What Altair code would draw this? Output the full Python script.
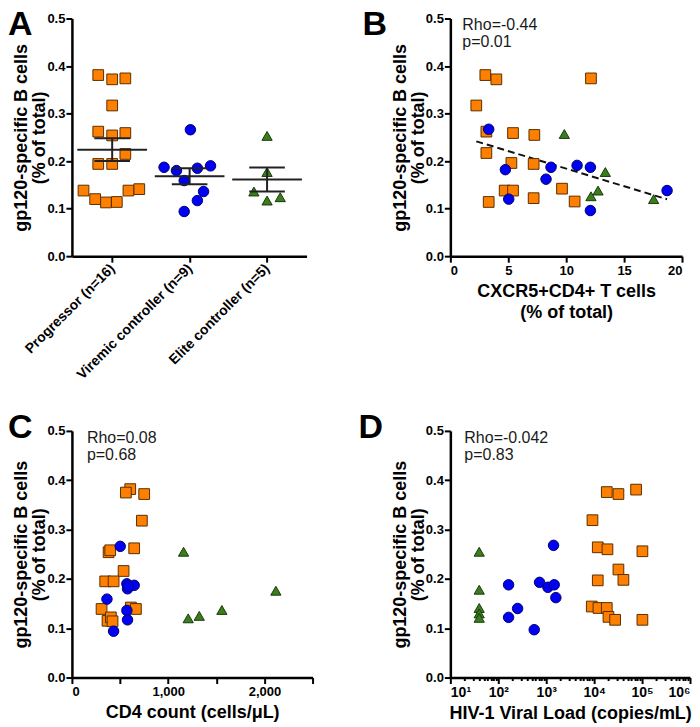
import altair as alt
import pandas as pd

groups = ["Progressor (n=16)", "Viremic controller (n=9)", "Elite controller (n=5)"]
fills = ["#FF8000", "#0000F5", "#3A7D1C"]
strokes = ["#5A2E00", "#00006E", "#1B3A0C"]
shapes = ["square", "circle", "triangle-up"]
sizes = [115, 105, 100]

# ---- Panel A (group index + horizontal scatter offset) ----
a_prog = [0.381, 0.372, 0.374, 0.317, 0.262, 0.254, 0.259, 0.215, 0.194, 0.194, 0.138, 0.120, 0.113, 0.114, 0.138, 0.141]
a_prog_jit = [-0.18, 0, 0.17, 0, -0.18, 0, 0.17, 0.17, -0.18, 0, -0.37, -0.22, -0.08, 0.06, 0.21, 0.35]
a_vir = [0.187, 0.180, 0.159, 0.266, 0.185, 0.190, 0.136, 0.117, 0.094]
a_vir_jit = [-0.33, -0.17, -0.07, 0.01, 0.10, 0.27, 0.18, 0.10, -0.07]
a_eli = [0.253, 0.177, 0.136, 0.117, 0.124]
a_eli_jit = [0, 0, -0.17, 0, 0.17]

# ---- Panel B: CXCR5+CD4+ T cells ----
b_prog_x = [3.02, 3.97, 12.14, 2.24, 3.11, 5.41, 7.25, 3.11, 5.27, 7.19, 4.69, 5.41, 9.64, 3.31, 7.19, 10.73]
b_prog_y = [0.381, 0.372, 0.374, 0.317, 0.262, 0.259, 0.255, 0.217, 0.196, 0.194, 0.138, 0.138, 0.142, 0.114, 0.122, 0.115]
b_vir_x = [3.31, 4.75, 5.04, 8.26, 8.69, 10.94, 12.09, 12.09, 18.71]
b_vir_y = [0.267, 0.182, 0.120, 0.162, 0.187, 0.191, 0.187, 0.096, 0.138]
b_eli_x = [9.84, 13.38, 12.75, 12.14, 17.55]
b_eli_y = [0.257, 0.177, 0.138, 0.126, 0.120]

# ---- Panel C: CD4 count ----
c_prog_x = [606, 561, 751, 727, 381, 398, 647, 537, 346, 433, 308, 613, 665, 370, 405, 422]
c_prog_y = [0.382, 0.375, 0.372, 0.318, 0.254, 0.258, 0.262, 0.216, 0.195, 0.195, 0.139, 0.142, 0.139, 0.115, 0.122, 0.114]
c_vir_x = [502, 364, 433, 571, 578, 647, 585, 571, 578]
c_vir_y = [0.266, 0.159, 0.094, 0.190, 0.180, 0.187, 0.185, 0.136, 0.117]
c_eli_x = [1160, 2119, 1558, 1323, 1208]
c_eli_y = [0.255, 0.176, 0.137, 0.125, 0.120]

# ---- Panel D: viral load ----
d_prog_x = [18360, 32100, 75000, 9230, 11900, 18950, 101600, 32100, 40800, 11900, 8930, 12300, 18360, 19900, 27400, 101600]
d_prog_y = [0.376, 0.372, 0.381, 0.319, 0.264, 0.260, 0.256, 0.219, 0.198, 0.197, 0.144, 0.141, 0.141, 0.123, 0.117, 0.117]
d_vir_x = [164, 164, 253, 562, 726, 1084, 1468, 1422, 1589]
d_vir_y = [0.188, 0.122, 0.140, 0.097, 0.193, 0.183, 0.188, 0.268, 0.162]
d_eli_x = [40, 40, 40, 40, 40]
d_eli_y = [0.255, 0.178, 0.141, 0.130, 0.121]

annotations = {"B": "Rho=-0.44\np=0.01", "C": "Rho=0.08\np=0.68", "D": "Rho=-0.042\np=0.83"}

FONT = "Liberation Sans"


def frame(sets):
    rows = []
    for gi, (xs, ys) in enumerate(sets):
        for x, y in zip(xs, ys):
            rows.append({"g": groups[gi], "gi": gi, "x": x, "y": y})
    return pd.DataFrame(rows)


df_a = frame([(a_prog_jit, a_prog), (a_vir_jit, a_vir), (a_eli_jit, a_eli)])
df_b = frame([(b_prog_x, b_prog_y), (b_vir_x, b_vir_y), (b_eli_x, b_eli_y)])
df_c = frame([(c_prog_x, c_prog_y), (c_vir_x, c_vir_y), (c_eli_x, c_eli_y)])
df_d = frame([(d_prog_x, d_prog_y), (d_vir_x, d_vir_y), (d_eli_x, d_eli_y)])

yaxis = alt.Axis(values=[0, 0.1, 0.2, 0.3, 0.4, 0.5], format=".1f",
                 title=["gp120-specific B cells", "(% of total)"],
                 titlePadding=-2, labelPadding=1, titleLineHeight=18)


def yenc(f="y"):
    return alt.Y(f"{f}:Q", scale=alt.Scale(domain=[0, 0.5], nice=False, zero=False), axis=yaxis)


def points(df, xenc):
    return alt.Chart(df).mark_point(filled=True, opacity=1, strokeWidth=1).encode(
        x=xenc, y=yenc(),
        color=alt.Color("g:N", scale=alt.Scale(domain=groups, range=fills), legend=None),
        stroke=alt.Stroke("g:N", scale=alt.Scale(domain=groups, range=strokes), legend=None),
        shape=alt.Shape("g:N", scale=alt.Scale(domain=groups, range=shapes), legend=None),
        size=alt.Size("g:O", scale=alt.Scale(domain=groups, range=sizes), legend=None),
    )


def letter(ch, dx, dy):
    return alt.Chart(pd.DataFrame({"t": [ch]})).mark_text(
        align="left", baseline="alphabetic", fontSize=34, fontWeight="bold", font=FONT, color="black"
    ).encode(text="t:N", x=alt.value(dx), y=alt.value(dy))


def note(txt, dx, dy):
    return alt.Chart(pd.DataFrame({"t": [txt]})).mark_text(
        align="left", baseline="alphabetic", fontSize=16, font=FONT, color="#1a1a1a",
        lineBreak="\n", lineHeight=17
    ).encode(text="t:N", x=alt.value(dx), y=alt.value(dy))


# ---- Panel A ----
label_expr = " : ".join(f"datum.value == {i} ? '{g}'" for i, g in enumerate(groups[:-1])) + f" : '{groups[-1]}'"
axis_a = alt.Axis(values=[0, 1, 2], labelExpr=label_expr, title=None, labelAngle=-45,
                  labelAlign="right", labelBaseline="middle", labelPadding=4,
                  labelOverlap=False, labelFontSize=14, labelBound=False, labelFlush=False)
xs_a = alt.Scale(domain=[-0.52, 2.51], nice=False, zero=False)


def xa(f):
    return alt.X(f"{f}:Q", scale=xs_a, axis=axis_a)


pts_a = points(df_a, xa("xp")).transform_calculate(xp="datum.gi + datum.x")
stats = alt.Chart(df_a).transform_aggregate(
    m="mean(y)", se="stderr(y)", groupby=["gi"]
).transform_calculate(
    x1="datum.gi - 0.45", x2="datum.gi + 0.45", c1="datum.gi - 0.23", c2="datum.gi + 0.23",
    lo="datum.m - datum.se", hi="datum.m + datum.se"
)
rule_kw = dict(color="#222222", strokeWidth=2)
mean_line = stats.mark_rule(**rule_kw).encode(x=xa("x1"), x2="x2:Q", y=yenc("m"))
err_v = stats.mark_rule(**rule_kw).encode(x=xa("gi"), y=yenc("lo"), y2="hi:Q")
cap_lo = stats.mark_rule(**rule_kw).encode(x=xa("c1"), x2="c2:Q", y=yenc("lo"))
cap_hi = stats.mark_rule(**rule_kw).encode(x=xa("c1"), x2="c2:Q", y=yenc("hi"))
panel_a = alt.layer(pts_a, mean_line, err_v, cap_lo, cap_hi, letter("A", -64, 17)).properties(width=235, height=238)

# ---- Panel B ----
xb = alt.X("x:Q", scale=alt.Scale(domain=[0, 20], nice=False),
           axis=alt.Axis(values=[0, 5, 10, 15, 20], title=["CXCR5+CD4+ T cells", "(% of total)"],
                         titlePadding=5, labelPadding=2, titleLineHeight=21))
reg = alt.Chart(df_b).transform_regression("x", "y").mark_line(
    color="#111111", strokeWidth=2, strokeDash=[7, 4]
).encode(x=xb, y=yenc())
panel_b = alt.layer(reg, points(df_b, xb), note(annotations["B"], 12, 12), letter("B", -88, 17)).properties(width=232, height=238)

# ---- Panel C ----
xc = alt.X("x:Q", scale=alt.Scale(domain=[0, 2500], nice=False),
           axis=alt.Axis(values=[0, 500, 1000, 1500, 2000, 2500], title="CD4 count (cells/\u03bcL)",
                         titlePadding=5, labelPadding=2))
panel_c = alt.layer(points(df_c, xc), note(annotations["C"], 15, 12), letter("C", -64, 7)).properties(width=241, height=247)

# ---- Panel D ----
decades = [10, 100, 1000, 10000, 100000, 1000000]
sups = ["\u00b9", "\u00b2", "\u00b3", "\u2074", "\u2075", "\u2076"]
minor_vals = [m * d for d in decades[:-1] for m in range(1, 10)] + [decades[-1]]
d_label = " : ".join(f"datum.value == {d} ? '10{s}'" for d, s in zip(decades, sups)) + " : ''"
major_test = "indexof([" + ",".join(str(d) for d in decades) + "], datum.value) >= 0"
xd = alt.X("x:Q", scale=alt.Scale(type="log", domain=[10, 1000000], nice=False),
           axis=alt.Axis(values=minor_vals, labelExpr=d_label, title="HIV-1 Viral Load (copies/mL)",
                         titlePadding=5, labelPadding=2, labelOverlap=False, labelFontSize=14,
                         tickSize={"condition": {"test": major_test, "value": 6}, "value": 3}))
panel_d = alt.layer(points(df_d, xd), note(annotations["D"], 14, 12), letter("D", -92, 7)).properties(width=240, height=247)

chart = alt.concat(panel_a, panel_b, panel_c, panel_d, columns=2).properties(
    bounds="flush", spacing={"row": 175, "column": 138}, align="each", padding=0
).configure_view(stroke=None).configure_axis(
    grid=False, domainColor="black", domainWidth=2.5, tickColor="black", tickWidth=2, tickSize=6,
    labelFont=FONT, labelFontWeight="bold", labelFontSize=13, labelColor="black",
    titleFont=FONT, titleFontWeight="bold", titleFontSize=18, titleColor="black", titleLineHeight=18
)

chart.save("out.html", embed_options={"renderer": "svg", "actions": False})
